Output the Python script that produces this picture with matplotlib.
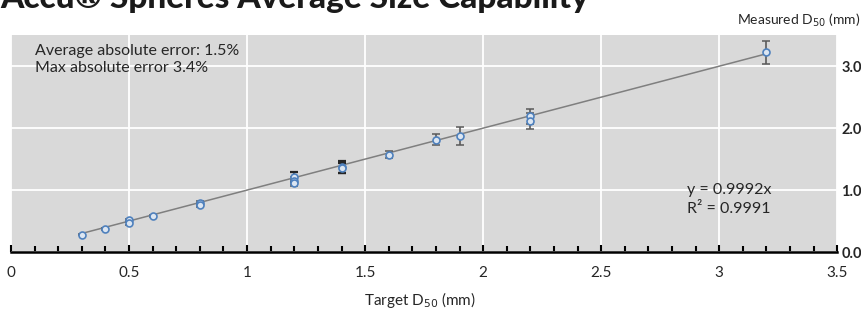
import matplotlib
matplotlib.use("Agg")
import matplotlib.pyplot as plt
from matplotlib.ticker import MultipleLocator

# ============================================================
# Dados
# ============================================================
target = [0.3, 0.4, 0.5, 0.5, 0.6, 0.8, 0.8, 1.2, 1.2, 1.2, 1.4, 1.4,
          1.6, 1.8, 1.9, 2.2, 2.2, 3.2]
measured = [0.28, 0.37, 0.51, 0.47, 0.58, 0.79, 0.76, 1.21, 1.15, 1.11,
            1.37, 1.35, 1.57, 1.81, 1.87, 2.19, 2.11, 3.22]
err = [0.01, 0.01, 0.03, 0.03, 0.02, 0.03, 0.03, 0.08, 0.06, 0.05,
       0.10, 0.08, 0.06, 0.09, 0.14, 0.12, 0.13, 0.18]
dark_err = [False] * 7 + [True, False, False, True, True] + [False] * 6

slope = 0.9992
r2 = 0.9991
x_ticks = [0, 0.5, 1, 1.5, 2, 2.5, 3, 3.5]
x_labels = ["0", "0.5", "1", "1.5", "2", "2.5", "3", "3.5"]
y_ticks = [0.0, 1.0, 2.0, 3.0]

title = "Accu\u00ae Spheres Average Size Capability"
note_lines = ["Average absolute error: 1.5%", "Max absolute error 3.4%"]

plt.rcParams["font.family"] = ["Lato", "DejaVu Sans"]

fig = plt.figure(figsize=(8.62, 3.10), dpi=100)
ax = fig.add_axes([0.0128, 0.187, 0.9585, 0.700])
ax.set_facecolor("#d9d9d9")

# linha de tendência
x_fit = [min(target), max(target)]
ax.plot(x_fit, [slope * v for v in x_fit], color="#7f7f7f", lw=1.1, zorder=2)

# barras de erro + marcadores
for xs, ys, es, dk in zip(target, measured, err, dark_err):
    ax.errorbar(xs, ys, yerr=es, fmt="none",
                ecolor="#262626" if dk else "#5a5a5a",
                elinewidth=1.2, capsize=3, capthick=1.6 if dk else 1.1, zorder=3)
ax.plot(target, measured, "o", ms=5, mfc="#dce6f2", mec="#4f81bd",
        mew=1.2, zorder=4)

ax.set_xlim(0, 3.5)
ax.set_ylim(0, 3.5)
ax.set_xticks(x_ticks)
ax.set_xticklabels(x_labels, fontsize=11, color="#262626")
ax.xaxis.set_minor_locator(MultipleLocator(0.1))
ax.set_yticks(y_ticks)
ax.set_yticklabels([f"{v:.1f}" for v in y_ticks], fontsize=10.5,
                   color="#262626", fontweight="bold")
ax.yaxis.tick_right()
ax.tick_params(axis="y", length=0, pad=3)
ax.tick_params(axis="x", which="major", direction="in", length=5,
               width=1.5, color="black", pad=10)
ax.tick_params(axis="x", which="minor", direction="in", length=4,
               width=1.5, color="black")

ax.grid(True, which="major", color="white", lw=1.3)
ax.set_axisbelow(True)
for side in ["left", "right", "top"]:
    ax.spines[side].set_visible(False)
ax.spines["bottom"].set_linewidth(1.8)
ax.spines["bottom"].set_color("black")

# textos
for i, line in enumerate(note_lines):
    ax.text(24 / 826, 0.925 - i * 0.078, line, transform=ax.transAxes,
            fontsize=11.5, color="#262626", va="center")
ax.text(0.818, 0.285, f"y = {slope}x", transform=ax.transAxes,
        fontsize=11.5, color="#262626", va="center")
ax.text(0.818, 0.2, f"R\u00b2 = {r2}", transform=ax.transAxes,
        fontsize=11.5, color="#262626", va="center")

fig.text(420 / 862, 1 - 300 / 310, "Target D$_{50}$ (mm)", fontsize=11,
         color="#262626", ha="center", va="center")
fig.text(860 / 862, 1 - 20 / 310, "Measured D$_{50}$ (mm)", fontsize=10,
         color="#262626", ha="right", va="center")
fig.text(0.0, 1 - 8 / 310, title, fontsize=24, fontweight="black",
         color="#1a1a1a", ha="left", va="baseline")

fig.savefig("out.png", dpi=100)
plt.close(fig)
